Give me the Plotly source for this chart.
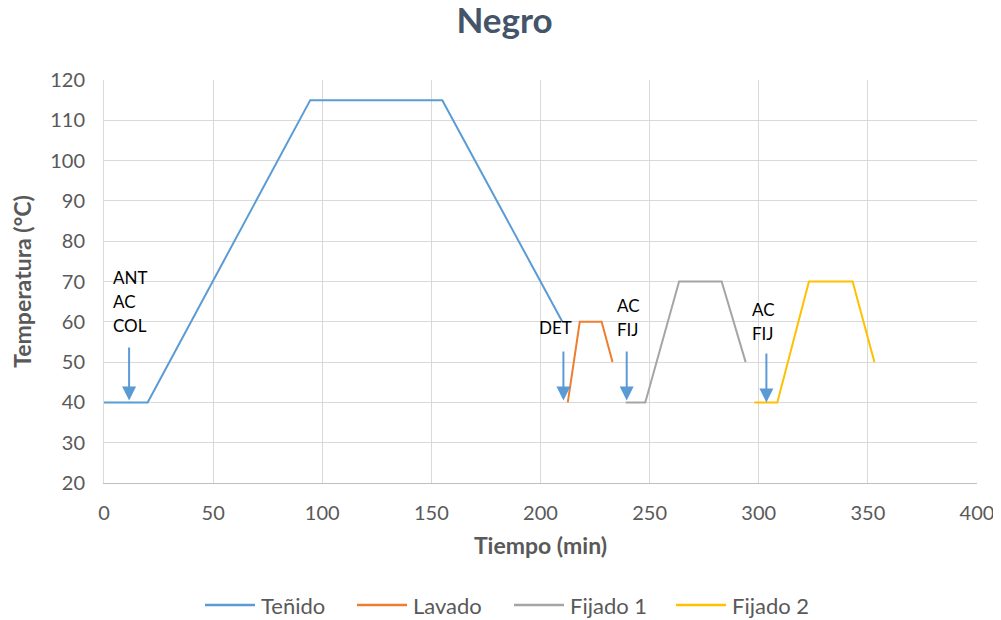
import plotly.graph_objects as go

# Data (time in min, temperature in °C)
tenido_t = [0, 20, 94.5, 155, 210]
tenido_T = [40, 40, 115, 115, 60]
lavado_t = [212.5, 218, 228, 233]
lavado_T = [40, 60, 60, 50]
fij1_t = [239, 248, 263.5, 283, 294]
fij1_T = [40, 40, 70, 70, 50]
fij2_t = [298, 308.5, 323, 343, 353]
fij2_T = [40, 40, 70, 70, 50]

series_names = ["Teñido", "Lavado", "Fijado 1", "Fijado 2"]
series_colors = ["#5B9BD5", "#ED7D31", "#A5A5A5", "#FFC000"]

# Arrow annotations: x position, tail temp, head temp, label lines
arrow_x = [11.5, 210.5, 239.5, 303.5]
arrow_tail = [54, 53, 53, 52.5]
arrow_head = [40.5, 40.5, 40.5, 40]
label_x = [3, 198.5, 234, 296]
label_lines = [["ANT", "AC", "COL"], ["DET"], ["AC", "FIJ"], ["AC", "FIJ"]]
label_top = [71, 58.5, 64, 63]

FONT = "Lato"
W, H = 993, 612
ML, MR, MT, MB = 96, 24, 72, 137
PW, PH = W - ML - MR, H - MT - MB

fig = go.Figure()
all_t = [tenido_t, lavado_t, fij1_t, fij2_t]
all_T = [tenido_T, lavado_T, fij1_T, fij2_T]
for name, t, T, c in zip(series_names, all_t, all_T, series_colors):
    fig.add_trace(go.Scatter(x=t, y=T, mode="lines", name=name, showlegend=False,
                             line=dict(color=c, width=2)))

annotations = []
for x, tail, head in zip(arrow_x, arrow_tail, arrow_head):
    annotations.append(dict(x=x, y=head, ax=x, ay=tail, xref="x", yref="y",
                            axref="x", ayref="y", showarrow=True, arrowhead=2,
                            arrowsize=1.4, arrowwidth=2, arrowcolor="#5B9BD5", text=""))
for lx, lines, top in zip(label_x, label_lines, label_top):
    for i, s in enumerate(lines):
        annotations.append(dict(x=lx, y=top - 6 * i, xref="x", yref="y", text=s,
                                showarrow=False, xanchor="left", yanchor="middle",
                                font=dict(family=FONT, size=17, color="#000000")))

# Custom legend (layout only): line sample + label, laid out in pixels
shapes = []
leg_y = -(605 - 8 - (MT + PH)) / PH   # paper y of legend row
leg_starts_px = [205, 357, 514, 676]  # page x of each legend line start
for name, c, sx in zip(series_names, series_colors, leg_starts_px):
    x0 = (sx - 8 - ML) / PW
    x1 = (sx + 50 - 8 - ML) / PW
    shapes.append(dict(type="line", xref="paper", yref="paper", x0=x0, x1=x1,
                       y0=leg_y, y1=leg_y, line=dict(color=c, width=2.5)))
    annotations.append(dict(x=(sx + 54 - 8 - ML) / PW, y=leg_y, xref="paper", yref="paper",
                            text=name, showarrow=False, xanchor="left", yanchor="middle",
                            font=dict(family=FONT, size=22, color="#595959")))

fig.update_layout(
    width=W, height=H,
    margin=dict(l=ML, r=MR, t=MT, b=MB),
    paper_bgcolor="white", plot_bgcolor="white",
    showlegend=False,
    title=dict(text="<b>Negro</b>", x=0.5, xanchor="center", y=1.0, yanchor="top",
               pad=dict(t=0), font=dict(family=FONT, size=35, color="#44546A")),
    font=dict(family=FONT, size=20, color="#595959"),
    xaxis=dict(range=[0, 400], dtick=50, showgrid=True, gridcolor="#D9D9D9",
               zeroline=False, showline=True, linecolor="#BFBFBF", ticks="",
               ticklabelstandoff=12, automargin=False,
               title=dict(text="<b>Tiempo (min)</b>", font=dict(size=23, color="#595959"), standoff=14),
               tickfont=dict(size=20, color="#595959")),
    yaxis=dict(range=[20, 120], dtick=10, showgrid=True, gridcolor="#D9D9D9",
               zeroline=False, showline=True, linecolor="#D9D9D9", ticks="",
               ticklabelstandoff=14, automargin=False,
               title=dict(text="<b>Temperatura (°C)</b>", font=dict(size=23, color="#595959"), standoff=12),
               tickfont=dict(size=20, color="#595959")),
    shapes=shapes,
    annotations=annotations,
)
fig.write_html("out.html")
